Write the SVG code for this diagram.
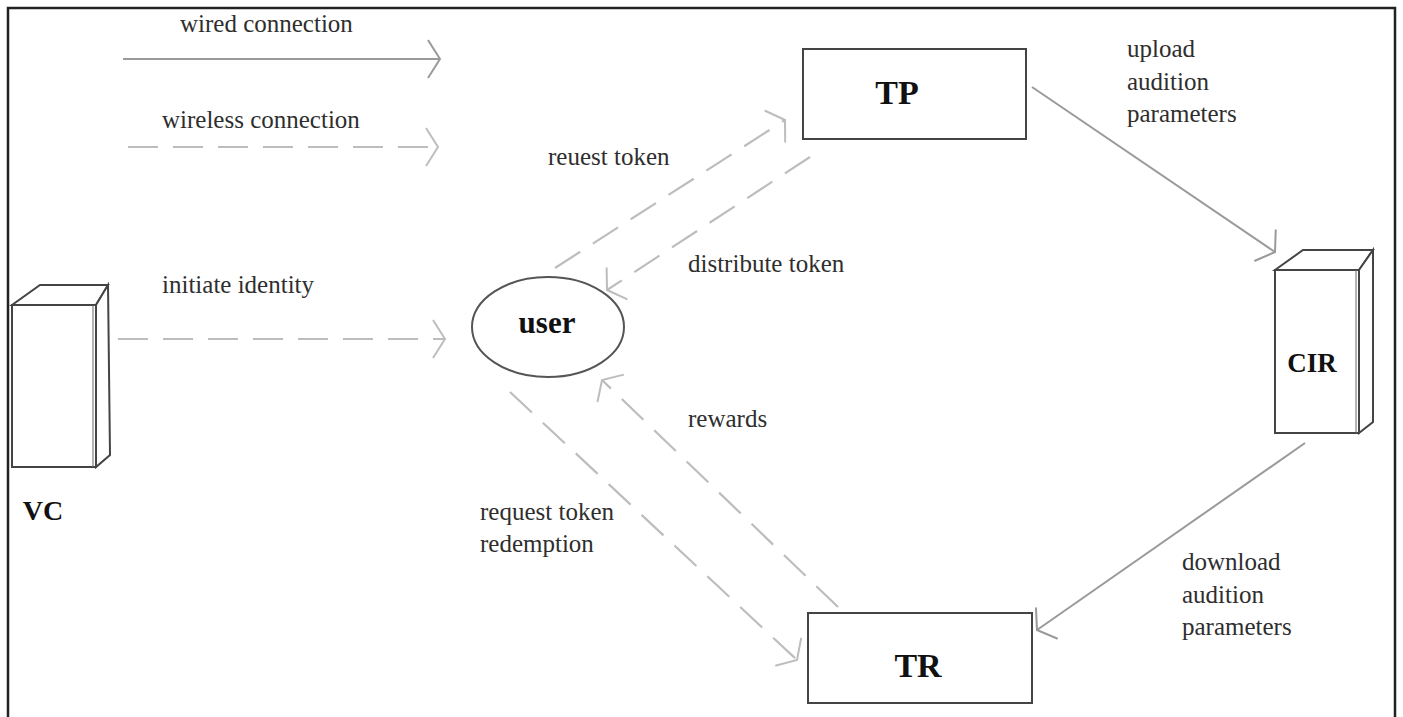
<svg xmlns="http://www.w3.org/2000/svg" width="1403" height="717" viewBox="0 0 1403 717">
<style>
.t{font-family:"Liberation Serif","Times New Roman",serif;font-size:25px;fill:#2e2e2e}
.b{font-family:"Liberation Serif","Times New Roman",serif;font-weight:bold;fill:#111;text-anchor:middle}
.solid{stroke:#9a9a9a;stroke-width:2;fill:none}
.dash{stroke:#bdbdbd;stroke-width:2.2;fill:none;stroke-dasharray:30 15}
.box{stroke:#444;stroke-width:2;fill:#fff}
</style>
<defs>
<marker id="ah" markerUnits="userSpaceOnUse" orient="auto" refX="0" refY="0" markerWidth="20" markerHeight="44" viewBox="-16 -22 20 44" overflow="visible">
<path d="M-12,-19 L0,0 L-12,19" fill="none" stroke="#9a9a9a" stroke-width="2"/>
</marker>
<marker id="ahl" markerUnits="userSpaceOnUse" orient="auto" refX="0" refY="0" markerWidth="20" markerHeight="44" viewBox="-16 -22 20 44" overflow="visible">
<path d="M-12,-19 L0,0 L-12,19" fill="none" stroke="#bdbdbd" stroke-width="2"/>
</marker>
</defs>
<rect width="1403" height="717" fill="#fff"/>
<path d="M8,717 V8 H1395 V717" fill="none" stroke="#222" stroke-width="2.5"/>

<g id="legend">
<text class="t" x="180" y="32">wired connection</text>
<text class="t" x="162" y="128">wireless connection</text>
</g>

<g id="connectors">
<line class="solid" x1="123" y1="59" x2="440" y2="59" marker-end="url(#ah)"/>
<line class="dash" x1="128" y1="147" x2="438" y2="147" marker-end="url(#ahl)"/>
<line class="dash" x1="118" y1="339" x2="445" y2="339" marker-end="url(#ahl)"/>
<line class="dash" x1="555" y1="268" x2="785" y2="120" marker-end="url(#ahl)"/>
<line class="dash" x1="810" y1="157" x2="607" y2="290" marker-end="url(#ahl)"/>
<line class="solid" x1="1032" y1="87" x2="1275" y2="252" marker-end="url(#ah)"/>
<line class="solid" x1="1305" y1="443" x2="1037" y2="630" marker-end="url(#ah)"/>
<line class="dash" x1="510" y1="392" x2="797" y2="660" marker-end="url(#ahl)"/>
<line class="dash" x1="838" y1="607" x2="602" y2="380" marker-end="url(#ahl)"/>
<text class="t" x="162" y="293">initiate identity</text>
<text class="t" x="548" y="165">reuest token</text>
<text class="t" x="688" y="272">distribute token</text>
<text class="t" x="1127" y="57">upload</text>
<text class="t" x="1127" y="90">audition</text>
<text class="t" x="1127" y="122">parameters</text>
<text class="t" x="1182" y="570">download</text>
<text class="t" x="1182" y="603">audition</text>
<text class="t" x="1182" y="635">parameters</text>
<text class="t" x="688" y="427">rewards</text>
<text class="t" x="480" y="520">request token</text>
<text class="t" x="480" y="552">redemption</text>
</g>

<g id="VC">
<polygon class="box" points="12,305 40,285 108,285 96,305"/>
<polygon class="box" points="96,305 108,285 110,455 96,467"/>
<rect class="box" x="12" y="305" width="84" height="162"/>
<line x1="93" y1="305" x2="93" y2="467" stroke="#666" stroke-width="1"/>
<text class="b" x="43" y="520" font-size="28">VC</text>
</g>

<g id="user">
<ellipse cx="548" cy="327" rx="76" ry="50" fill="#fff" stroke="#555" stroke-width="2"/>
<text class="b" x="547" y="333" font-size="31">user</text>
</g>

<g id="TP">
<rect class="box" x="803" y="49" width="223" height="90"/>
<text class="b" x="897" y="104" font-size="34">TP</text>
</g>

<g id="CIR">
<polygon class="box" points="1275,270 1303,250 1373,250 1359,270"/>
<polygon class="box" points="1359,270 1373,250 1373,422 1359,433"/>
<rect class="box" x="1275" y="270" width="84" height="163"/>
<line x1="1356" y1="270" x2="1356" y2="433" stroke="#666" stroke-width="1"/>
<text class="b" x="1312" y="372" font-size="27">CIR</text>
</g>

<g id="TR">
<rect class="box" x="808" y="613" width="224" height="90"/>
<text class="b" x="918" y="677" font-size="34">TR</text>
</g>
</svg>
